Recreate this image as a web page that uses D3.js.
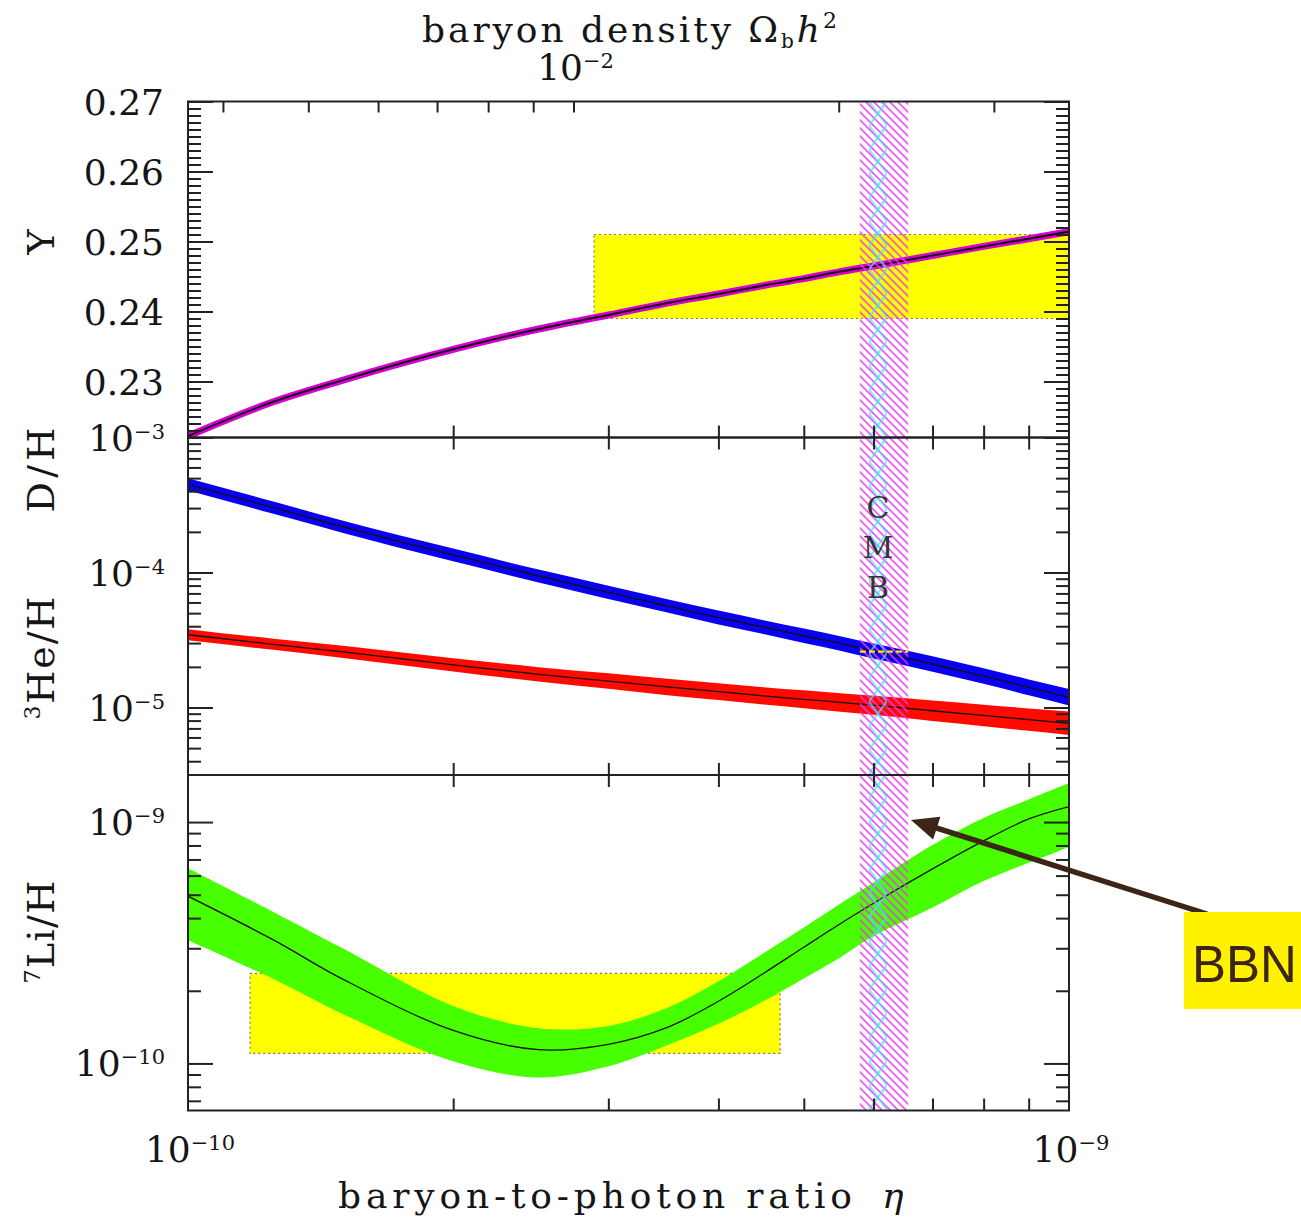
<!DOCTYPE html>
<html>
<head>
<meta charset="utf-8">
<script src="https://cdn.jsdelivr.net/npm/d3@7"></script>
<style>
  body { margin: 0; background: #fff; }
  svg { display: block; }
  .serif { font-family: "DejaVu Serif", serif; fill: #151515; }
  .tick line { stroke-width: 2; }
</style>
</head>
<body>
<div id="chart"></div>
<script>
// baryon-to-photon ratio grid, in units of 1e-10
const etaGrid = [1.0, 1.25, 1.5, 2.0, 2.5, 3.0, 3.5, 4.0, 4.5, 5.0, 5.5, 6.0, 7.0, 8.0, 9.0, 10.0];

// 4He mass fraction Y
const heY = [0.2222, 0.2271, 0.2302, 0.2346, 0.2375, 0.2395, 0.2412, 0.2425, 0.2437, 0.2447, 0.2457, 0.2465, 0.2480, 0.2493, 0.2504, 0.2514];

// D/H and its fractional band half-width
const dhMid = [4.50e-4, 3.02e-4, 2.18e-4, 1.35e-4, 9.42e-5, 7.13e-5, 5.65e-5, 4.64e-5, 3.94e-5, 3.40e-5, 2.98e-5, 2.62e-5, 2.10e-5, 1.71e-5, 1.41e-5, 1.19e-5];
const dhSig = [0.11, 0.11, 0.11, 0.115, 0.115, 0.12, 0.12, 0.125, 0.125, 0.13, 0.13, 0.135, 0.14, 0.14, 0.145, 0.15];

// 3He/H and its fractional band half-width
const he3Mid = [3.46e-5, 2.94e-5, 2.58e-5, 2.07e-5, 1.76e-5, 1.57e-5, 1.42e-5, 1.31e-5, 1.22e-5, 1.15e-5, 1.09e-5, 1.04e-5, 9.46e-6, 8.73e-6, 8.13e-6, 7.64e-6];
const he3Sig = [0.10, 0.10, 0.11, 0.12, 0.13, 0.14, 0.15, 0.155, 0.16, 0.165, 0.17, 0.175, 0.19, 0.20, 0.21, 0.22];

// 7Li/H: central value and band edges
const liMid = [4.93e-10, 3.25e-10, 2.23e-10, 1.37e-10, 1.14e-10, 1.20e-10, 1.41e-10, 1.81e-10, 2.36e-10, 3.03e-10, 3.79e-10, 4.61e-10, 6.40e-10, 8.36e-10, 1.03e-9, 1.16e-9];
const liHi  = [6.43e-10, 4.24e-10, 2.99e-10, 1.73e-10, 1.40e-10, 1.43e-10, 1.70e-10, 2.19e-10, 2.86e-10, 3.66e-10, 4.59e-10, 5.62e-10, 8.03e-10, 1.04e-9, 1.24e-9, 1.45e-9];
const liLo  = [3.24e-10, 2.24e-10, 1.60e-10, 1.02e-10, 8.75e-11, 9.73e-11, 1.19e-10, 1.46e-10, 1.81e-10, 2.25e-10, 2.75e-10, 3.37e-10, 4.43e-10, 5.70e-10, 6.78e-10, 7.89e-10];

// observed ranges (yellow boxes)
const yBoxEta = [2.89e-10, 1.0e-9];
const yBoxVal = [0.239, 0.251];
const liBoxEta = [1.176e-10, 4.70e-10];
const liBoxVal = [1.10e-10, 2.36e-10];
const dhObs = 2.59e-5;

// CMB bands
const cmbEta = [5.79e-10, 6.57e-10];
const cmbCoreEta = [5.93e-10, 6.21e-10];

// ticks
const yTickMajor = [0.23, 0.24, 0.25, 0.26, 0.27];
const yTickMinor = d3.range(223, 270).map(d => d / 1000).filter(v => !yTickMajor.some(m => Math.abs(m - v) < 1e-6));
const dExps = [-3, -4, -5];
const liExps = [-9, -10];
const etaMinor = [2, 3, 4, 5, 6, 7, 8, 9].map(d => d * 1e-10);
const obhTicks = [0.004, 0.005, 0.006, 0.007, 0.008, 0.009, 0.01, 0.02, 0.03];
const obhToEta = 273.9e-10;

const width = 1301, height = 1219;
const margin = { left: 188, right: 1069 };
const pTop = [101.5, 437.5], pMid = [437.5, 775], pBot = [775, 1110.5];

const svg = d3.select("#chart").append("svg")
  .attr("width", width).attr("height", height)
  .attr("viewBox", `0 0 ${width} ${height}`);

const x = d3.scaleLog().domain([1e-10, 1e-9]).range([margin.left, margin.right]);
const yY = d3.scaleLinear().domain([0.222, 0.27]).range([pTop[1], pTop[0]]);
const yD = d3.scaleLog().domain([Math.pow(10, -5.5), 1e-3]).range([pMid[1], pMid[0]]);
const yLi = d3.scaleLog().domain([Math.pow(10, -10.195), Math.pow(10, -8.805)]).range([pBot[1], pBot[0]]);

const rows = etaGrid.map((e, i) => ({
  eta: e * 1e-10, Y: heY[i],
  dh: dhMid[i], dhLo: dhMid[i] / (1 + dhSig[i]), dhHi: dhMid[i] * (1 + dhSig[i]),
  he3: he3Mid[i], he3Lo: he3Mid[i] / (1 + he3Sig[i]), he3Hi: he3Mid[i] * (1 + he3Sig[i]),
  li: liMid[i], liLo: liLo[i], liHi: liHi[i]
}));

const defs = svg.append("defs");
[["clipTop", pTop], ["clipMid", pMid], ["clipBot", pBot]].forEach(([id, p]) => {
  defs.append("clipPath").attr("id", id).append("rect")
    .attr("x", margin.left).attr("y", p[0])
    .attr("width", margin.right - margin.left).attr("height", p[1] - p[0]);
});

const cmbX0 = x(cmbEta[0]), cmbW = x(cmbEta[1]) - x(cmbEta[0]);
const coreX0 = x(cmbCoreEta[0]), coreW = x(cmbCoreEta[1]) - x(cmbCoreEta[0]);

// diagonal magenta hatching (\\\)
const hm = defs.append("pattern").attr("id", "hatchM")
  .attr("patternUnits", "userSpaceOnUse").attr("x", cmbX0).attr("y", 0)
  .attr("width", 8).attr("height", 8);
hm.append("path").attr("d", "M-1,-1 L9,9 M-1,7 L1,9 M7,-1 L9,1")
  .attr("stroke", "#ee38ee").attr("stroke-width", 1.7);

// cyan cross-hatching in the narrow core
const hc = defs.append("pattern").attr("id", "hatchC")
  .attr("patternUnits", "userSpaceOnUse").attr("x", coreX0).attr("y", pTop[0])
  .attr("width", coreW).attr("height", 24);
hc.append("path").attr("d", `M0,0 L${coreW},24 M0,24 L${coreW},0`)
  .attr("stroke", "#4cdcff").attr("stroke-width", 1.7);

// observed boxes
const box = (g, ex, ys, yScale) => g.append("rect")
  .attr("x", x(ex[0])).attr("width", x(ex[1]) - x(ex[0]))
  .attr("y", yScale(ys[1])).attr("height", yScale(ys[0]) - yScale(ys[1]))
  .attr("fill", "#ffff00").attr("stroke", "#777").attr("stroke-width", 1.2)
  .attr("stroke-dasharray", "2,3");

// top panel: Y
const gTop = svg.append("g").attr("clip-path", "url(#clipTop)");
box(gTop, yBoxEta, yBoxVal, yY);
const lineY = d3.line().x(d => x(d.eta)).y(d => yY(d.Y)).curve(d3.curveMonotoneX);
gTop.append("path").datum(rows).attr("d", lineY)
  .attr("fill", "none").attr("stroke", "#d400d4").attr("stroke-width", 7);
gTop.append("path").datum(rows).attr("d", lineY)
  .attr("fill", "none").attr("stroke", "#1a001a").attr("stroke-width", 2);

// middle panel: 3He/H and D/H
const gMid = svg.append("g").attr("clip-path", "url(#clipMid)");
const bandMid = (lo, hi, mid, color) => {
  gMid.append("path").datum(rows)
    .attr("d", d3.area().x(d => x(d.eta)).y0(d => yD(d[lo])).y1(d => yD(d[hi])).curve(d3.curveMonotoneX))
    .attr("fill", color);
  gMid.append("path").datum(rows)
    .attr("d", d3.line().x(d => x(d.eta)).y(d => yD(d[mid])).curve(d3.curveMonotoneX))
    .attr("fill", "none").attr("stroke", "#111").attr("stroke-width", 1.3);
};
bandMid("he3Lo", "he3Hi", "he3", "#ff0a00");
bandMid("dhLo", "dhHi", "dh", "#0a00f0");

// bottom panel: 7Li/H
const gBot = svg.append("g").attr("clip-path", "url(#clipBot)");
box(gBot, liBoxEta, liBoxVal, yLi);
gBot.append("path").datum(rows)
  .attr("d", d3.area().x(d => x(d.eta)).y0(d => yLi(d.liLo)).y1(d => yLi(d.liHi)).curve(d3.curveCatmullRom))
  .attr("fill", "#48ff00");
gBot.append("path").datum(rows)
  .attr("d", d3.line().x(d => x(d.eta)).y(d => yLi(d.li)).curve(d3.curveCatmullRom))
  .attr("fill", "none").attr("stroke", "#111").attr("stroke-width", 1.3);

// CMB hatched bands
svg.append("rect")
  .attr("x", cmbX0).attr("y", pTop[0])
  .attr("width", cmbW).attr("height", pBot[1] - pTop[0])
  .attr("fill", "url(#hatchM)").attr("opacity", 0.85);
svg.append("rect")
  .attr("x", coreX0).attr("y", pTop[0])
  .attr("width", coreW).attr("height", pBot[1] - pTop[0])
  .attr("fill", "url(#hatchC)").attr("opacity", 0.85);

// observed D/H marker across CMB band
svg.append("line")
  .attr("x1", cmbX0).attr("x2", cmbX0 + cmbW)
  .attr("y1", yD(dhObs)).attr("y2", yD(dhObs))
  .attr("stroke", "#ffe600").attr("stroke-width", 2.2).attr("stroke-dasharray", "6,3");

// frames
[pTop, pMid, pBot].forEach(p => {
  svg.append("rect").attr("x", margin.left).attr("y", p[0])
    .attr("width", margin.right - margin.left).attr("height", p[1] - p[0])
    .attr("fill", "none").attr("stroke", "#222").attr("stroke-width", 2);
});

// ticks
const noDomain = g => g.select(".domain").remove();
const tickGroup = (axis, tx, ty) => svg.append("g")
  .attr("transform", `translate(${tx},${ty})`).attr("color", "#222")
  .call(axis).call(noDomain);

const logMinor = (scale) => {
  const [a, b] = scale.domain();
  const out = [];
  for (let e = Math.floor(Math.log10(a)); e <= Math.ceil(Math.log10(b)); e++) {
    for (let k = 2; k <= 9; k++) {
      const v = k * Math.pow(10, e);
      if (v > a && v < b) out.push(v);
    }
  }
  return out;
};

// y ticks, left and right
tickGroup(d3.axisLeft(yY).tickValues(yTickMinor).tickSize(-13).tickFormat(""), margin.left, 0);
tickGroup(d3.axisLeft(yY).tickValues(yTickMajor).tickSize(-25).tickFormat(""), margin.left, 0);
tickGroup(d3.axisRight(yY).tickValues(yTickMinor).tickSize(-13).tickFormat(""), margin.right, 0);
tickGroup(d3.axisRight(yY).tickValues(yTickMajor).tickSize(-25).tickFormat(""), margin.right, 0);

[[yD, dExps], [yLi, liExps]].forEach(([s, exps]) => {
  const majors = exps.map(e => Math.pow(10, e));
  const minors = logMinor(s);
  tickGroup(d3.axisLeft(s).tickValues(minors).tickSize(-13).tickFormat(""), margin.left, 0);
  tickGroup(d3.axisLeft(s).tickValues(majors).tickSize(-25).tickFormat(""), margin.left, 0);
  tickGroup(d3.axisRight(s).tickValues(minors).tickSize(-13).tickFormat(""), margin.right, 0);
  tickGroup(d3.axisRight(s).tickValues(majors).tickSize(-25).tickFormat(""), margin.right, 0);
});

// x ticks on panel edges, pointing inward
tickGroup(d3.axisBottom(x).tickValues(etaMinor).tickSize(-12).tickFormat(""), 0, pTop[1]);
tickGroup(d3.axisTop(x).tickValues(etaMinor).tickSize(-12).tickFormat(""), 0, pMid[0]);
tickGroup(d3.axisBottom(x).tickValues(etaMinor).tickSize(-12).tickFormat(""), 0, pMid[1]);
tickGroup(d3.axisTop(x).tickValues(etaMinor).tickSize(-12).tickFormat(""), 0, pBot[0]);
tickGroup(d3.axisBottom(x).tickValues(etaMinor).tickSize(-12).tickFormat(""), 0, pBot[1]);
// baryon density ticks along top
tickGroup(d3.axisTop(x).tickValues(obhTicks.map(v => v * obhToEta)).tickSize(-11).tickFormat(""), 0, pTop[0]);

// labels
const powLabel = (xPos, yPos, exp, anchor) => {
  const t = svg.append("text").attr("class", "serif")
    .attr("x", xPos).attr("y", yPos).attr("text-anchor", anchor)
    .attr("font-size", 36);
  t.append("tspan").text("10");
  t.append("tspan").attr("font-size", 21).attr("dy", -12).text("\u2212" + Math.abs(exp));
  return t;
};

yTickMajor.forEach(v => {
  svg.append("text").attr("class", "serif")
    .attr("x", 164).attr("y", yY(v) + 13).attr("text-anchor", "end")
    .attr("font-size", 36).text(v.toFixed(2));
});
dExps.forEach(e => powLabel(165, yD(Math.pow(10, e)) + 13, e, "end"));
liExps.forEach(e => powLabel(165, yLi(Math.pow(10, e)) + 13, e, "end"));
powLabel(x(1e-10) + 2, 1162, -10, "middle");
powLabel(x(1e-9) + 2, 1162, -9, "middle");
powLabel(x(0.01 * obhToEta) + 2, 80, -2, "middle");

// title
const title = svg.append("text").attr("class", "serif")
  .attr("x", 422).attr("y", 42).attr("font-size", 36)
  .attr("textLength", 415).attr("lengthAdjust", "spacing");
title.append("tspan").text("baryon density \u03A9");
title.append("tspan").attr("font-size", 20).attr("dy", 6).text("b");
title.append("tspan").attr("font-size", 36).attr("dy", -6).attr("font-style", "italic").text("h");
title.append("tspan").attr("font-size", 22).attr("dy", -14).text("2");

// x-axis title
svg.append("text").attr("class", "serif")
  .attr("x", 338).attr("y", 1208).attr("font-size", 36)
  .attr("textLength", 514).attr("lengthAdjust", "spacing")
  .text("baryon-to-photon ratio");
svg.append("text").attr("class", "serif")
  .attr("x", 882).attr("y", 1208).attr("font-size", 36).attr("font-style", "italic")
  .text("\u03B7");

// y-axis titles
const yTitle = (cy, len, build) => {
  const t = svg.append("text").attr("class", "serif")
    .attr("transform", `translate(54,${cy}) rotate(-90)`)
    .attr("text-anchor", "middle").attr("font-size", 38);
  if (len) t.attr("textLength", len).attr("lengthAdjust", "spacing");
  build(t);
};
yTitle(242, 0, t => t.text("Y"));
yTitle(470, 85, t => t.text("D/H"));
yTitle(658, 123, t => {
  t.append("tspan").attr("font-size", 22).attr("dy", -14).text("3");
  t.append("tspan").attr("dy", 14).text("He/H");
});
yTitle(932, 103, t => {
  t.append("tspan").attr("font-size", 22).attr("dy", -14).text("7");
  t.append("tspan").attr("dy", 14).text("Li/H");
});

// CMB text
["C", "M", "B"].forEach((c, i) => {
  svg.append("text").attr("class", "serif")
    .attr("x", 878).attr("y", 518 + i * 40).attr("text-anchor", "middle")
    .attr("font-size", 30).style("fill", "#333").text(c);
});

// BBN annotation
const arrowFrom = [1207, 914], arrowTip = [911, 820];
const dx = arrowTip[0] - arrowFrom[0], dy = arrowTip[1] - arrowFrom[1];
const len = Math.hypot(dx, dy), ux = dx / len, uy = dy / len;
const headL = 27, headW = 12;
const bx = arrowTip[0] - ux * headL, by = arrowTip[1] - uy * headL;
svg.append("line")
  .attr("x1", arrowFrom[0]).attr("y1", arrowFrom[1])
  .attr("x2", bx + ux * 4).attr("y2", by + uy * 4)
  .attr("stroke", "#3c2416").attr("stroke-width", 5.5);
svg.append("path")
  .attr("d", `M${arrowTip[0]},${arrowTip[1]} L${bx - uy * headW},${by + ux * headW} L${bx + uy * headW},${by - ux * headW} Z`)
  .attr("fill", "#3c2416");
svg.append("rect").attr("x", 1184).attr("y", 912).attr("width", 117).attr("height", 97)
  .attr("fill", "#fff200");
svg.append("text").attr("x", 1192).attr("y", 982)
  .attr("font-family", "Liberation Sans, Arial, sans-serif").attr("font-size", 51)
  .attr("fill", "#3c2416").text("BBN");
</script>
</body>
</html>
